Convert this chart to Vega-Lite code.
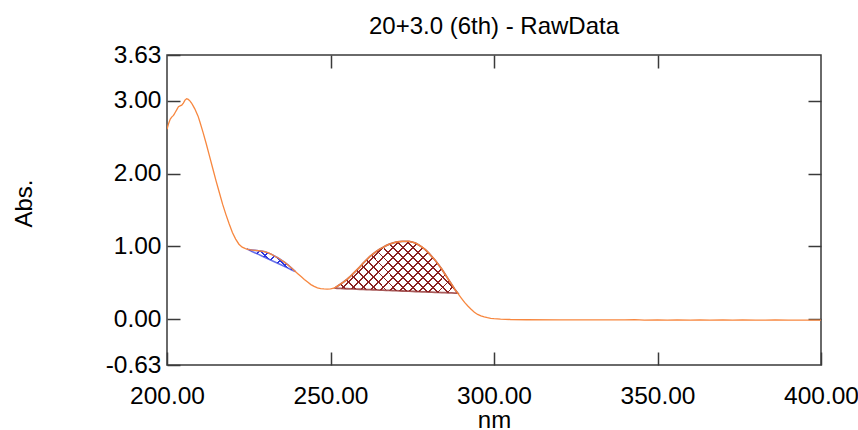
{
  "$schema": "https://vega.github.io/schema/vega-lite/v6.json",
  "autosize": {"type": "none"},
  "padding": {"left": 167, "top": 55, "right": 37, "bottom": 65},
  "width": 654,
  "height": 310,
  "background": "white",
  "title": {"text": "20+3.0 (6th) - RawData", "fontSize": 24, "fontWeight": "normal", "font": "Liberation Sans", "color": "#000000", "anchor": "middle", "frame": "group", "baseline": "alphabetic", "offset": -16},
  "config": {
    "font": "Liberation Sans",
    "view": {"stroke": "#3a3a3a", "strokeWidth": 1.5},
    "axis": {"grid": false, "domain": false, "tickColor": "#3a3a3a", "tickWidth": 1.5, "labelFont": "Liberation Sans", "titleFont": "Liberation Sans", "labelColor": "#000000", "titleColor": "#000000", "labelFontSize": 24.5, "titleFontSize": 24, "titleFontWeight": "normal", "labelOverlap": false, "labelFlush": false, "labelBound": false}
  },
  "datasets": {
    "spectrum": [
      {"nm":200,"abs":2.61},{"nm":200.5,"abs":2.69},{"nm":201,"abs":2.75},{"nm":201.5,"abs":2.78},{"nm":202,"abs":2.80},{"nm":202.5,"abs":2.84},{"nm":203,"abs":2.88},{"nm":203.5,"abs":2.92},{"nm":204,"abs":2.93},{"nm":204.5,"abs":2.94},{"nm":205,"abs":2.97},{"nm":205.5,"abs":3.01},{"nm":206,"abs":3.03},{"nm":206.5,"abs":3.02},{"nm":207,"abs":3.00},{"nm":207.5,"abs":2.97},{"nm":208,"abs":2.93},{"nm":208.5,"abs":2.89},{"nm":209,"abs":2.84},{"nm":209.5,"abs":2.79},{"nm":210,"abs":2.72},{"nm":211,"abs":2.57},{"nm":212,"abs":2.41},{"nm":213,"abs":2.24},{"nm":214,"abs":2.07},{"nm":215,"abs":1.90},{"nm":216,"abs":1.74},{"nm":217,"abs":1.58},{"nm":218,"abs":1.44},{"nm":219,"abs":1.31},{"nm":220,"abs":1.19},{"nm":221,"abs":1.10},{"nm":222,"abs":1.03},{"nm":223,"abs":0.99},{"nm":224,"abs":0.97},{"nm":225,"abs":0.955},{"nm":226,"abs":0.95},{"nm":227,"abs":0.945},{"nm":228,"abs":0.94},{"nm":229,"abs":0.935},{"nm":230,"abs":0.925},{"nm":231,"abs":0.91},{"nm":232,"abs":0.89},{"nm":233,"abs":0.865},{"nm":234,"abs":0.84},{"nm":235,"abs":0.81},{"nm":236,"abs":0.78},{"nm":237,"abs":0.745},{"nm":238,"abs":0.705},{"nm":239,"abs":0.665},{"nm":240,"abs":0.625},{"nm":241,"abs":0.585},{"nm":242,"abs":0.545},{"nm":243,"abs":0.51},{"nm":244,"abs":0.475},{"nm":245,"abs":0.45},{"nm":246,"abs":0.43},{"nm":247,"abs":0.42},{"nm":248,"abs":0.415},{"nm":249,"abs":0.413},{"nm":250,"abs":0.415},{"nm":251,"abs":0.425},{"nm":252,"abs":0.45},{"nm":253,"abs":0.48},{"nm":254,"abs":0.51},{"nm":255,"abs":0.545},{"nm":256,"abs":0.585},{"nm":257,"abs":0.63},{"nm":258,"abs":0.675},{"nm":259,"abs":0.72},{"nm":260,"abs":0.77},{"nm":261,"abs":0.815},{"nm":262,"abs":0.86},{"nm":263,"abs":0.895},{"nm":264,"abs":0.93},{"nm":265,"abs":0.96},{"nm":266,"abs":0.985},{"nm":267,"abs":1.01},{"nm":268,"abs":1.03},{"nm":269,"abs":1.045},{"nm":270,"abs":1.057},{"nm":271,"abs":1.064},{"nm":272,"abs":1.068},{"nm":273,"abs":1.07},{"nm":274,"abs":1.068},{"nm":275,"abs":1.06},{"nm":276,"abs":1.045},{"nm":277,"abs":1.02},{"nm":278,"abs":0.99},{"nm":279,"abs":0.955},{"nm":280,"abs":0.91},{"nm":281,"abs":0.86},{"nm":282,"abs":0.81},{"nm":283,"abs":0.75},{"nm":284,"abs":0.69},{"nm":285,"abs":0.62},{"nm":286,"abs":0.55},{"nm":287,"abs":0.48},{"nm":288,"abs":0.41},{"nm":289,"abs":0.35},{"nm":290,"abs":0.29},{"nm":291,"abs":0.23},{"nm":292,"abs":0.18},{"nm":293,"abs":0.135},{"nm":294,"abs":0.095},{"nm":295,"abs":0.065},{"nm":296,"abs":0.045},{"nm":297,"abs":0.03},{"nm":298,"abs":0.02},{"nm":299,"abs":0.012},{"nm":300,"abs":0.006},{"nm":302,"abs":0.0},{"nm":305,"abs":-0.005},{"nm":310,"abs":-0.008},{"nm":320,"abs":-0.01},{"nm":330,"abs":-0.01},{"nm":340,"abs":-0.01},{"nm":343,"abs":-0.007},{"nm":346,"abs":-0.012},{"nm":350,"abs":-0.01},{"nm":353,"abs":-0.013},{"nm":356,"abs":-0.009},{"nm":360,"abs":-0.012},{"nm":363,"abs":-0.01},{"nm":366,"abs":-0.014},{"nm":370,"abs":-0.011},{"nm":373,"abs":-0.013},{"nm":376,"abs":-0.01},{"nm":380,"abs":-0.012},{"nm":383,"abs":-0.014},{"nm":386,"abs":-0.011},{"nm":390,"abs":-0.013},{"nm":393,"abs":-0.012},{"nm":396,"abs":-0.014},{"nm":400,"abs":-0.012}
    ],
    "blue": [
      {"nm":224.4,"abs":0.965,"base":0.965},{"nm":225,"abs":0.955,"base":0.952},{"nm":226,"abs":0.95,"base":0.931},{"nm":227,"abs":0.945,"base":0.910},{"nm":228,"abs":0.94,"base":0.890},{"nm":229,"abs":0.935,"base":0.869},{"nm":230,"abs":0.925,"base":0.848},{"nm":231,"abs":0.91,"base":0.827},{"nm":232,"abs":0.89,"base":0.806},{"nm":233,"abs":0.865,"base":0.785},{"nm":234,"abs":0.84,"base":0.764},{"nm":235,"abs":0.81,"base":0.743},{"nm":236,"abs":0.78,"base":0.722},{"nm":237,"abs":0.745,"base":0.701},{"nm":238,"abs":0.705,"base":0.680},{"nm":239,"abs":0.665,"base":0.659},{"nm":239.3,"abs":0.653,"base":0.653}
    ],
    "red": [
      {"nm":251.4,"abs":0.428,"base":0.428},{"nm":252,"abs":0.45,"base":0.424},{"nm":253,"abs":0.48,"base":0.422},{"nm":254,"abs":0.51,"base":0.42},{"nm":255,"abs":0.545,"base":0.418},{"nm":256,"abs":0.585,"base":0.417},{"nm":257,"abs":0.63,"base":0.415},{"nm":258,"abs":0.675,"base":0.413},{"nm":259,"abs":0.72,"base":0.411},{"nm":260,"abs":0.77,"base":0.409},{"nm":261,"abs":0.815,"base":0.407},{"nm":262,"abs":0.86,"base":0.406},{"nm":263,"abs":0.895,"base":0.404},{"nm":264,"abs":0.93,"base":0.402},{"nm":265,"abs":0.96,"base":0.40},{"nm":266,"abs":0.985,"base":0.398},{"nm":267,"abs":1.01,"base":0.396},{"nm":268,"abs":1.03,"base":0.395},{"nm":269,"abs":1.045,"base":0.393},{"nm":270,"abs":1.057,"base":0.391},{"nm":271,"abs":1.064,"base":0.389},{"nm":272,"abs":1.068,"base":0.387},{"nm":273,"abs":1.07,"base":0.385},{"nm":274,"abs":1.068,"base":0.384},{"nm":275,"abs":1.06,"base":0.382},{"nm":276,"abs":1.045,"base":0.380},{"nm":277,"abs":1.02,"base":0.378},{"nm":278,"abs":0.99,"base":0.376},{"nm":279,"abs":0.955,"base":0.374},{"nm":280,"abs":0.91,"base":0.373},{"nm":281,"abs":0.86,"base":0.371},{"nm":282,"abs":0.81,"base":0.369},{"nm":283,"abs":0.75,"base":0.367},{"nm":284,"abs":0.69,"base":0.365},{"nm":285,"abs":0.62,"base":0.364},{"nm":286,"abs":0.55,"base":0.362},{"nm":287,"abs":0.48,"base":0.360},{"nm":288,"abs":0.41,"base":0.358},{"nm":288.9,"abs":0.357,"base":0.357}
    ]
  },
  "resolve": {"axis": {"x": "independent", "y": "independent"}},
  "layer": [
    {
      "data": {"name": "red"},
      "mark": {"type": "area", "opacity": 1, "stroke": "#8b2323", "strokeWidth": 1.8, "strokeOpacity": 0.75,
        "fill": {"gradient": "linear", "x1": 0, "y1": 0, "x2": 1.207, "y2": 0.508, "stops": [
          {"offset":0,"color":"rgba(139,35,35,0)"},
          {"offset":0.020,"color":"rgba(139,35,35,0)"},{"offset":0.020,"color":"#8b2323"},{"offset":0.031,"color":"#8b2323"},{"offset":0.031,"color":"rgba(139,35,35,0)"},
          {"offset":0.077,"color":"rgba(139,35,35,0)"},{"offset":0.077,"color":"#8b2323"},{"offset":0.088,"color":"#8b2323"},{"offset":0.088,"color":"rgba(139,35,35,0)"},
          {"offset":0.134,"color":"rgba(139,35,35,0)"},{"offset":0.134,"color":"#8b2323"},{"offset":0.145,"color":"#8b2323"},{"offset":0.145,"color":"rgba(139,35,35,0)"},
          {"offset":0.191,"color":"rgba(139,35,35,0)"},{"offset":0.191,"color":"#8b2323"},{"offset":0.202,"color":"#8b2323"},{"offset":0.202,"color":"rgba(139,35,35,0)"},
          {"offset":0.248,"color":"rgba(139,35,35,0)"},{"offset":0.248,"color":"#8b2323"},{"offset":0.259,"color":"#8b2323"},{"offset":0.259,"color":"rgba(139,35,35,0)"},
          {"offset":0.305,"color":"rgba(139,35,35,0)"},{"offset":0.305,"color":"#8b2323"},{"offset":0.316,"color":"#8b2323"},{"offset":0.316,"color":"rgba(139,35,35,0)"},
          {"offset":0.362,"color":"rgba(139,35,35,0)"},{"offset":0.362,"color":"#8b2323"},{"offset":0.373,"color":"#8b2323"},{"offset":0.373,"color":"rgba(139,35,35,0)"},
          {"offset":0.419,"color":"rgba(139,35,35,0)"},{"offset":0.419,"color":"#8b2323"},{"offset":0.430,"color":"#8b2323"},{"offset":0.430,"color":"rgba(139,35,35,0)"},
          {"offset":0.476,"color":"rgba(139,35,35,0)"},{"offset":0.476,"color":"#8b2323"},{"offset":0.487,"color":"#8b2323"},{"offset":0.487,"color":"rgba(139,35,35,0)"},
          {"offset":0.533,"color":"rgba(139,35,35,0)"},{"offset":0.533,"color":"#8b2323"},{"offset":0.544,"color":"#8b2323"},{"offset":0.544,"color":"rgba(139,35,35,0)"},
          {"offset":0.590,"color":"rgba(139,35,35,0)"},{"offset":0.590,"color":"#8b2323"},{"offset":0.601,"color":"#8b2323"},{"offset":0.601,"color":"rgba(139,35,35,0)"},
          {"offset":0.647,"color":"rgba(139,35,35,0)"},{"offset":0.647,"color":"#8b2323"},{"offset":0.658,"color":"#8b2323"},{"offset":0.658,"color":"rgba(139,35,35,0)"},
          {"offset":0.704,"color":"rgba(139,35,35,0)"},{"offset":0.704,"color":"#8b2323"},{"offset":0.715,"color":"#8b2323"},{"offset":0.715,"color":"rgba(139,35,35,0)"},
          {"offset":0.761,"color":"rgba(139,35,35,0)"},{"offset":0.761,"color":"#8b2323"},{"offset":0.772,"color":"#8b2323"},{"offset":0.772,"color":"rgba(139,35,35,0)"},
          {"offset":0.818,"color":"rgba(139,35,35,0)"},{"offset":0.818,"color":"#8b2323"},{"offset":0.829,"color":"#8b2323"},{"offset":0.829,"color":"rgba(139,35,35,0)"},
          {"offset":0.875,"color":"rgba(139,35,35,0)"},{"offset":0.875,"color":"#8b2323"},{"offset":0.886,"color":"#8b2323"},{"offset":0.886,"color":"rgba(139,35,35,0)"},
          {"offset":0.932,"color":"rgba(139,35,35,0)"},{"offset":0.932,"color":"#8b2323"},{"offset":0.943,"color":"#8b2323"},{"offset":0.943,"color":"rgba(139,35,35,0)"},
          {"offset":0.989,"color":"rgba(139,35,35,0)"},{"offset":0.989,"color":"#8b2323"},{"offset":1,"color":"#8b2323"}
        ]}},
      "encoding": {
        "x": {"field": "nm", "type": "quantitative", "scale": {"domain": [200, 400], "nice": false, "zero": false},
          "axis": {"orient": "top", "values": [250, 300, 350], "labels": false, "tickSize": -13, "title": null}},
        "y": {"field": "abs", "type": "quantitative", "scale": {"domain": [-0.63, 3.63], "nice": false, "zero": false},
          "axis": {"orient": "right", "values": [0, 1, 2, 3], "labels": false, "tickSize": -13, "title": null}},
        "y2": {"field": "base"}
      }
    },
    {
      "data": {"name": "red"},
      "mark": {"type": "area", "opacity": 1,
        "fill": {"gradient": "linear", "x1": 0, "y1": 1, "x2": 1.207, "y2": 0.492, "stops": [
          {"offset":0,"color":"rgba(139,35,35,0)"},
          {"offset":0.020,"color":"rgba(139,35,35,0)"},{"offset":0.020,"color":"#8b2323"},{"offset":0.031,"color":"#8b2323"},{"offset":0.031,"color":"rgba(139,35,35,0)"},
          {"offset":0.077,"color":"rgba(139,35,35,0)"},{"offset":0.077,"color":"#8b2323"},{"offset":0.088,"color":"#8b2323"},{"offset":0.088,"color":"rgba(139,35,35,0)"},
          {"offset":0.134,"color":"rgba(139,35,35,0)"},{"offset":0.134,"color":"#8b2323"},{"offset":0.145,"color":"#8b2323"},{"offset":0.145,"color":"rgba(139,35,35,0)"},
          {"offset":0.191,"color":"rgba(139,35,35,0)"},{"offset":0.191,"color":"#8b2323"},{"offset":0.202,"color":"#8b2323"},{"offset":0.202,"color":"rgba(139,35,35,0)"},
          {"offset":0.248,"color":"rgba(139,35,35,0)"},{"offset":0.248,"color":"#8b2323"},{"offset":0.259,"color":"#8b2323"},{"offset":0.259,"color":"rgba(139,35,35,0)"},
          {"offset":0.305,"color":"rgba(139,35,35,0)"},{"offset":0.305,"color":"#8b2323"},{"offset":0.316,"color":"#8b2323"},{"offset":0.316,"color":"rgba(139,35,35,0)"},
          {"offset":0.362,"color":"rgba(139,35,35,0)"},{"offset":0.362,"color":"#8b2323"},{"offset":0.373,"color":"#8b2323"},{"offset":0.373,"color":"rgba(139,35,35,0)"},
          {"offset":0.419,"color":"rgba(139,35,35,0)"},{"offset":0.419,"color":"#8b2323"},{"offset":0.430,"color":"#8b2323"},{"offset":0.430,"color":"rgba(139,35,35,0)"},
          {"offset":0.476,"color":"rgba(139,35,35,0)"},{"offset":0.476,"color":"#8b2323"},{"offset":0.487,"color":"#8b2323"},{"offset":0.487,"color":"rgba(139,35,35,0)"},
          {"offset":0.533,"color":"rgba(139,35,35,0)"},{"offset":0.533,"color":"#8b2323"},{"offset":0.544,"color":"#8b2323"},{"offset":0.544,"color":"rgba(139,35,35,0)"},
          {"offset":0.590,"color":"rgba(139,35,35,0)"},{"offset":0.590,"color":"#8b2323"},{"offset":0.601,"color":"#8b2323"},{"offset":0.601,"color":"rgba(139,35,35,0)"},
          {"offset":0.647,"color":"rgba(139,35,35,0)"},{"offset":0.647,"color":"#8b2323"},{"offset":0.658,"color":"#8b2323"},{"offset":0.658,"color":"rgba(139,35,35,0)"},
          {"offset":0.704,"color":"rgba(139,35,35,0)"},{"offset":0.704,"color":"#8b2323"},{"offset":0.715,"color":"#8b2323"},{"offset":0.715,"color":"rgba(139,35,35,0)"},
          {"offset":0.761,"color":"rgba(139,35,35,0)"},{"offset":0.761,"color":"#8b2323"},{"offset":0.772,"color":"#8b2323"},{"offset":0.772,"color":"rgba(139,35,35,0)"},
          {"offset":0.818,"color":"rgba(139,35,35,0)"},{"offset":0.818,"color":"#8b2323"},{"offset":0.829,"color":"#8b2323"},{"offset":0.829,"color":"rgba(139,35,35,0)"},
          {"offset":0.875,"color":"rgba(139,35,35,0)"},{"offset":0.875,"color":"#8b2323"},{"offset":0.886,"color":"#8b2323"},{"offset":0.886,"color":"rgba(139,35,35,0)"},
          {"offset":0.932,"color":"rgba(139,35,35,0)"},{"offset":0.932,"color":"#8b2323"},{"offset":0.943,"color":"#8b2323"},{"offset":0.943,"color":"rgba(139,35,35,0)"},
          {"offset":0.989,"color":"rgba(139,35,35,0)"},{"offset":0.989,"color":"#8b2323"},{"offset":1,"color":"#8b2323"}
        ]}},
      "encoding": {
        "x": {"field": "nm", "type": "quantitative", "scale": {"domain": [200, 400], "nice": false, "zero": false}, "axis": null},
        "y": {"field": "abs", "type": "quantitative", "scale": {"domain": [-0.63, 3.63], "nice": false, "zero": false}, "axis": null},
        "y2": {"field": "base"}
      }
    },
    {
      "data": {"name": "blue"},
      "mark": {"type": "area", "opacity": 1, "stroke": "#2a35e0", "strokeWidth": 1.6, "strokeOpacity": 0.7,
        "fill": {"gradient": "linear", "x1": 0, "y1": 0, "x2": 1.204, "y2": 0.561, "stops": [
          {"offset":0,"color":"rgba(42,53,224,0)"},
          {"offset":0.05,"color":"rgba(42,53,224,0)"},{"offset":0.05,"color":"#2a35e0"},{"offset":0.076,"color":"#2a35e0"},{"offset":0.076,"color":"rgba(42,53,224,0)"},
          {"offset":0.19,"color":"rgba(42,53,224,0)"},{"offset":0.19,"color":"#2a35e0"},{"offset":0.216,"color":"#2a35e0"},{"offset":0.216,"color":"rgba(42,53,224,0)"},
          {"offset":0.33,"color":"rgba(42,53,224,0)"},{"offset":0.33,"color":"#2a35e0"},{"offset":0.356,"color":"#2a35e0"},{"offset":0.356,"color":"rgba(42,53,224,0)"},
          {"offset":0.47,"color":"rgba(42,53,224,0)"},{"offset":0.47,"color":"#2a35e0"},{"offset":0.496,"color":"#2a35e0"},{"offset":0.496,"color":"rgba(42,53,224,0)"},
          {"offset":0.61,"color":"rgba(42,53,224,0)"},{"offset":0.61,"color":"#2a35e0"},{"offset":0.636,"color":"#2a35e0"},{"offset":0.636,"color":"rgba(42,53,224,0)"},
          {"offset":0.75,"color":"rgba(42,53,224,0)"},{"offset":0.75,"color":"#2a35e0"},{"offset":0.776,"color":"#2a35e0"},{"offset":0.776,"color":"rgba(42,53,224,0)"},
          {"offset":0.89,"color":"rgba(42,53,224,0)"},{"offset":0.89,"color":"#2a35e0"},{"offset":0.916,"color":"#2a35e0"},{"offset":0.916,"color":"rgba(42,53,224,0)"},
          {"offset":1,"color":"rgba(42,53,224,0)"}
        ]}},
      "encoding": {
        "x": {"field": "nm", "type": "quantitative", "scale": {"domain": [200, 400], "nice": false, "zero": false}, "axis": null},
        "y": {"field": "abs", "type": "quantitative", "scale": {"domain": [-0.63, 3.63], "nice": false, "zero": false}, "axis": null},
        "y2": {"field": "base"}
      }
    },
    {
      "data": {"name": "blue"},
      "mark": {"type": "area", "opacity": 1,
        "fill": {"gradient": "linear", "x1": 0, "y1": 1, "x2": 1.204, "y2": 0.439, "stops": [
          {"offset":0,"color":"rgba(42,53,224,0)"},
          {"offset":0.05,"color":"rgba(42,53,224,0)"},{"offset":0.05,"color":"#2a35e0"},{"offset":0.076,"color":"#2a35e0"},{"offset":0.076,"color":"rgba(42,53,224,0)"},
          {"offset":0.19,"color":"rgba(42,53,224,0)"},{"offset":0.19,"color":"#2a35e0"},{"offset":0.216,"color":"#2a35e0"},{"offset":0.216,"color":"rgba(42,53,224,0)"},
          {"offset":0.33,"color":"rgba(42,53,224,0)"},{"offset":0.33,"color":"#2a35e0"},{"offset":0.356,"color":"#2a35e0"},{"offset":0.356,"color":"rgba(42,53,224,0)"},
          {"offset":0.47,"color":"rgba(42,53,224,0)"},{"offset":0.47,"color":"#2a35e0"},{"offset":0.496,"color":"#2a35e0"},{"offset":0.496,"color":"rgba(42,53,224,0)"},
          {"offset":0.61,"color":"rgba(42,53,224,0)"},{"offset":0.61,"color":"#2a35e0"},{"offset":0.636,"color":"#2a35e0"},{"offset":0.636,"color":"rgba(42,53,224,0)"},
          {"offset":0.75,"color":"rgba(42,53,224,0)"},{"offset":0.75,"color":"#2a35e0"},{"offset":0.776,"color":"#2a35e0"},{"offset":0.776,"color":"rgba(42,53,224,0)"},
          {"offset":0.89,"color":"rgba(42,53,224,0)"},{"offset":0.89,"color":"#2a35e0"},{"offset":0.916,"color":"#2a35e0"},{"offset":0.916,"color":"rgba(42,53,224,0)"},
          {"offset":1,"color":"rgba(42,53,224,0)"}
        ]}},
      "encoding": {
        "x": {"field": "nm", "type": "quantitative", "scale": {"domain": [200, 400], "nice": false, "zero": false}, "axis": null},
        "y": {"field": "abs", "type": "quantitative", "scale": {"domain": [-0.63, 3.63], "nice": false, "zero": false}, "axis": null},
        "y2": {"field": "base"}
      }
    },
    {
      "data": {"name": "spectrum"},
      "mark": {"type": "line", "color": "#f7873f", "strokeWidth": 1.3, "clip": true},
      "encoding": {
        "x": {"field": "nm", "type": "quantitative", "scale": {"domain": [200, 400], "nice": false, "zero": false},
          "axis": {"orient": "bottom", "values": [200, 250, 300, 350, 400], "format": ".2f", "tickSize": -13, "labelPadding": 51, "labelBaseline": "alphabetic", "title": "nm", "titleY": 62, "titleBaseline": "alphabetic"}},
        "y": {"field": "abs", "type": "quantitative", "scale": {"domain": [-0.63, 3.63], "nice": false, "zero": false},
          "axis": {"orient": "left", "values": [-0.63, 0, 1, 2, 3, 3.63], "format": ".2f", "labelExpr": "replace(datum.label, '\u2212', '-')", "tickSize": -13, "labelPadding": 19, "labelBaseline": "middle", "title": "Abs.", "titleAngle": -90, "titleX": -136, "titleY": 148, "titleAlign": "center", "titleBaseline": "alphabetic"}}
      }
    }
  ]
}
